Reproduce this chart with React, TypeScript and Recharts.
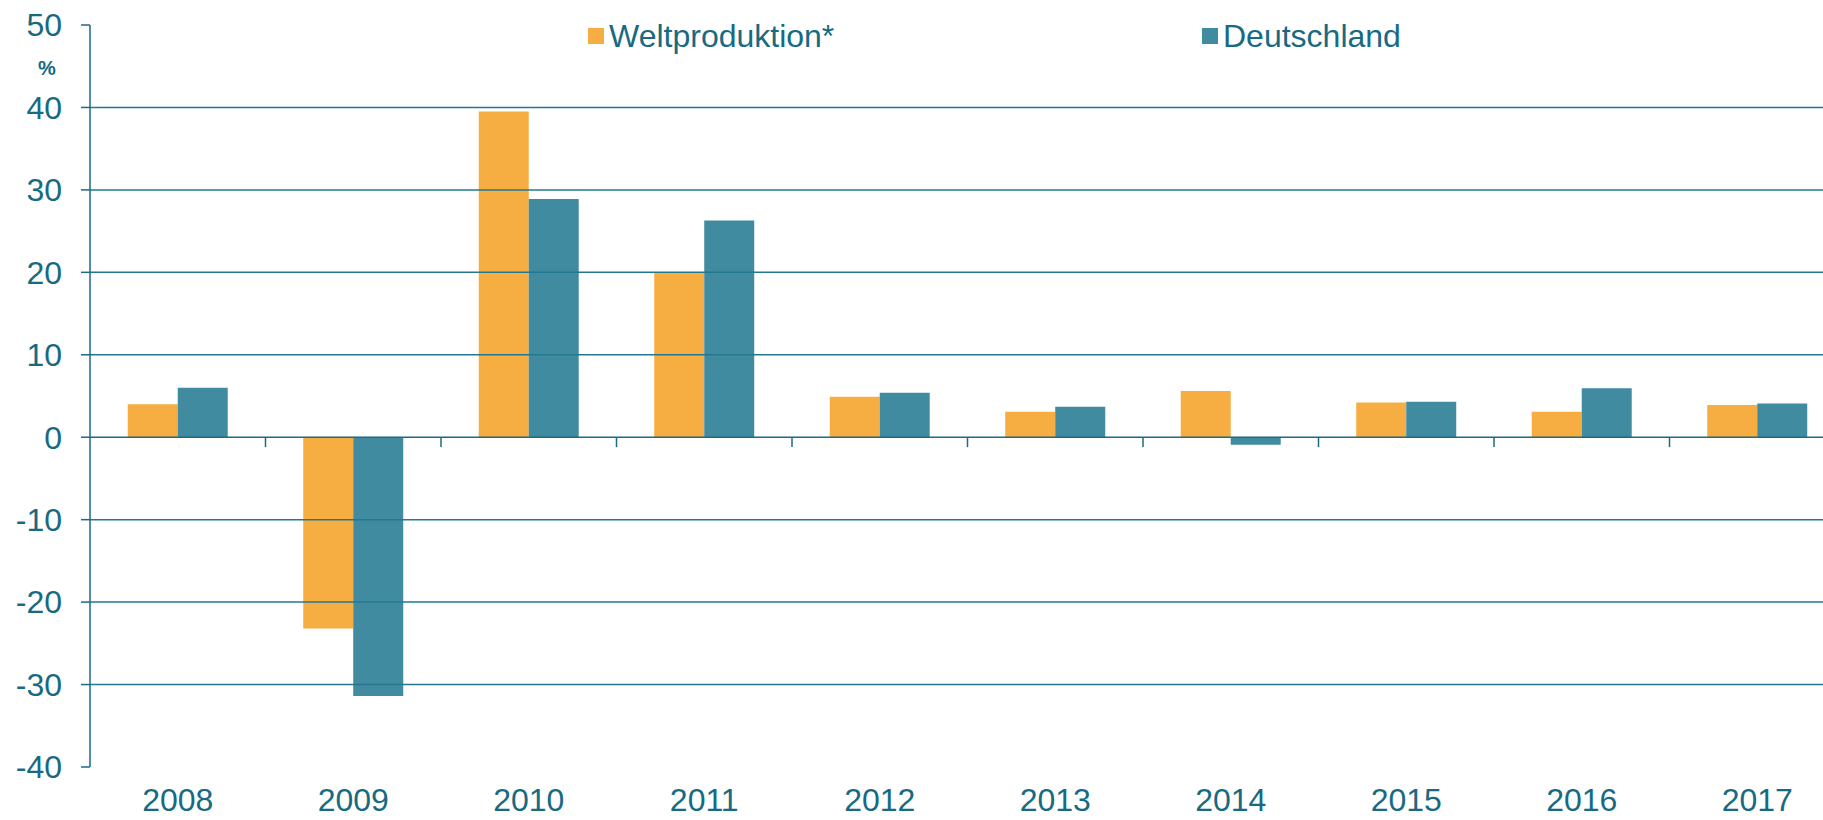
import React from 'react';
import { BarChart, Bar, XAxis, YAxis, ReferenceLine, Legend } from 'recharts';

const years = ['2008', '2009', '2010', '2011', '2012', '2013', '2014', '2015', '2016', '2017'];
const weltproduktion = [4.0, -23.2, 39.5, 20.0, 4.9, 3.1, 5.6, 4.2, 3.1, 3.9];
const deutschland = [6.0, -31.4, 28.9, 26.3, 5.4, 3.7, -0.9, 4.3, 5.95, 4.1];
const seriesNames = ['Weltproduktion*', 'Deutschland'];
const yTicks = [-40, -30, -20, -10, 0, 10, 20, 30, 40, 50];
const gridValues = [-30, -20, -10, 0, 10, 20, 30, 40];

const data = years.map((year, i) => ({
  year,
  welt: weltproduktion[i],
  de: deutschland[i],
}));

const FONT = '"Liberation Sans", Arial, sans-serif';
const TEXT = '#176a82';
const ORANGE = '#F6AD42';
const TEAL = '#418BA0';
const GRID = '#23788f';
const AXIS = '#1b6b82';

const LegendContent = (props: any) => {
  const items = [...(props.payload || [])].sort(
    (a: any, b: any) => seriesNames.indexOf(a.value) - seriesNames.indexOf(b.value)
  );
  return (
    <div style={{ display: 'flex', alignItems: 'center', fontFamily: FONT, fontSize: 32, lineHeight: '36px', color: TEXT }}>
      {items.map((entry: any, i: number) => (
        <div key={`leg-${i}`} style={{ display: 'flex', alignItems: 'center', width: i === 0 ? 614 : undefined }}>
          <span style={{ display: 'inline-block', width: 16, height: 16, background: entry.color, marginRight: 5 }} />
          <span>{entry.value}</span>
        </div>
      ))}
    </div>
  );
};

export default function App() {
  return (
    <div style={{ position: 'absolute', left: 0, top: 0, width: 1823, height: 820, overflow: 'hidden', background: '#fff', fontFamily: FONT }}>
      <BarChart
        width={1845}
        height={820}
        data={data}
        margin={{ top: 25, right: 0, bottom: 0, left: 0 }}
        barCategoryGap="21.5%"
        barGap={0}
      >
        {gridValues.map((v) => (
          <ReferenceLine key={`g-${v}`} y={v} stroke={v === 0 ? AXIS : GRID} strokeWidth={1.5} />
        ))}
        {years.slice(1).map((y) => (
          <ReferenceLine
            key={`t-${y}`}
            position="start"
            segment={[{ x: y, y: 0 }, { x: y, y: -1.2 }]}
            stroke={AXIS}
            strokeWidth={1.5}
          />
        ))}
        <XAxis
          dataKey="year"
          axisLine={false}
          tickLine={false}
          tickSize={0}
          tickMargin={21}
          height={53}
          interval={0}
          tick={{ fill: TEXT, fontSize: 32, fontFamily: FONT }}
        />
        <YAxis
          domain={[-40, 50]}
          ticks={yTicks}
          interval={0}
          width={90}
          axisLine={{ stroke: AXIS, strokeWidth: 1.5 }}
          tickLine={{ stroke: AXIS, strokeWidth: 1.5 }}
          tickSize={9}
          tickMargin={19}
          tick={{ fill: TEXT, fontSize: 32, fontFamily: FONT }}
          label={{ value: '%', position: 'insideTop', offset: 36, dx: 2, fill: TEXT, fontSize: 20, fontWeight: 'bold', fontFamily: FONT }}
        />
        <Legend
          layout="horizontal"
          verticalAlign="middle"
          align="center"
          wrapperStyle={{ left: 588, top: 18, width: 900 }}
          content={<LegendContent />}
        />
        <Bar dataKey="welt" name={seriesNames[0]} fill={ORANGE} isAnimationActive={false} />
        <Bar dataKey="de" name={seriesNames[1]} fill={TEAL} isAnimationActive={false} />
      </BarChart>
    </div>
  );
}
